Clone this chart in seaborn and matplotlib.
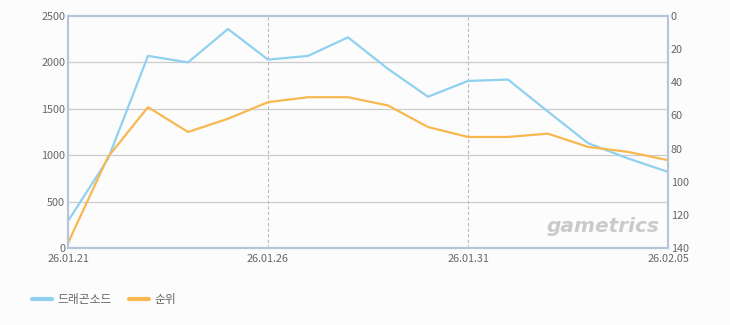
import matplotlib
matplotlib.use("Agg")
import matplotlib.pyplot as plt
import seaborn as sns
import pandas as pd
import numpy as np
from matplotlib.lines import Line2D

dates = ["26.01.21", "26.01.22", "26.01.23", "26.01.24", "26.01.25", "26.01.26",
         "26.01.27", "26.01.28", "26.01.29", "26.01.30", "26.01.31", "26.02.01",
         "26.02.02", "26.02.03", "26.02.04", "26.02.05"]
sales = [290, 960, 2070, 2000, 2360, 2030, 2070, 2270, 1930, 1630, 1800, 1815,
         1470, 1130, 965, 820]
rank = [137, 85, 55, 70, 62, 52, 49, 49, 54, 67, 73, 73, 71, 79, 82, 87]
shown_ticks = ["26.01.21", "26.01.26", "26.01.31", "26.02.05"]
left_ticks = [0, 500, 1000, 1500, 2000, 2500]
right_ticks = [0, 20, 40, 60, 80, 100, 120, 140]
series_names = ["드래곤소드", "순위"]

sns.set_theme(style="white")
plt.rcParams["font.family"] = ["Noto Sans CJK KR", "DejaVu Sans"]

df = pd.DataFrame({"idx": np.arange(len(dates)), "date": dates, "sales": sales, "rank": rank})

fig = plt.figure(figsize=(7.30, 3.25), dpi=100, facecolor="#fcfcfc")
ax = fig.add_axes([68 / 730, 1 - 248 / 325, 600 / 730, 232 / 325])
ax.set_facecolor("#fcfcfc")
blue = "#90d0f0"
orange = "#f8b850"
frame = "#b4c6d8"
txt = "#666666"

sns.lineplot(data=df, x="idx", y="sales", ax=ax, color=blue, linewidth=1.6, legend=False)
ax.set_xlim(0, len(dates) - 1)
ax.set_ylim(0, 2500)
ax.set_yticks(left_ticks)
ax.set_yticklabels([str(v) for v in left_ticks])
tick_pos = [dates.index(t) for t in shown_ticks]
ax.set_xticks(tick_pos)
ax.set_xticklabels(shown_ticks)
ax.set_xlabel("")
ax.set_ylabel("")
for v in left_ticks[1:-1]:
    ax.axhline(v, color="#cccccc", linewidth=0.9, zorder=0)
for p in tick_pos[1:-1]:
    ax.axvline(p, color="#bbbbbb", linewidth=0.8, linestyle=(0, (3, 2)), zorder=0)

ax2 = ax.twinx()
sns.lineplot(data=df, x="idx", y="rank", ax=ax2, color=orange, linewidth=1.6, legend=False)
ax2.set_ylim(140, 0)
ax2.set_yticks(right_ticks)
ax2.set_ylabel("")
ax2.set_xlim(0, len(dates) - 1)

for a in (ax, ax2):
    for s in a.spines.values():
        s.set_color(frame)
        s.set_linewidth(1.5)
    a.tick_params(axis="both", length=0, labelsize=7.8, colors=txt, pad=2)
ax.tick_params(axis="x", pad=4)

ax.text(0.985, 0.05, "gametrics", transform=ax.transAxes, ha="right", va="bottom",
        fontsize=14.5, color="#cacaca", fontstyle="italic", fontweight="bold",
        family=["DejaVu Sans"], zorder=1)

handles = [Line2D([0], [0], color=blue, linewidth=3),
           Line2D([0], [0], color=orange, linewidth=3)]
fig.legend(handles, series_names, loc="center left", bbox_to_anchor=(21 / 730, 1 - 300 / 325),
           ncol=2, frameon=False, fontsize=8.5, handlelength=1.7, handletextpad=0.5,
           columnspacing=1.4, labelcolor=txt)

fig.savefig("out.png", dpi=100, facecolor=fig.get_facecolor())
